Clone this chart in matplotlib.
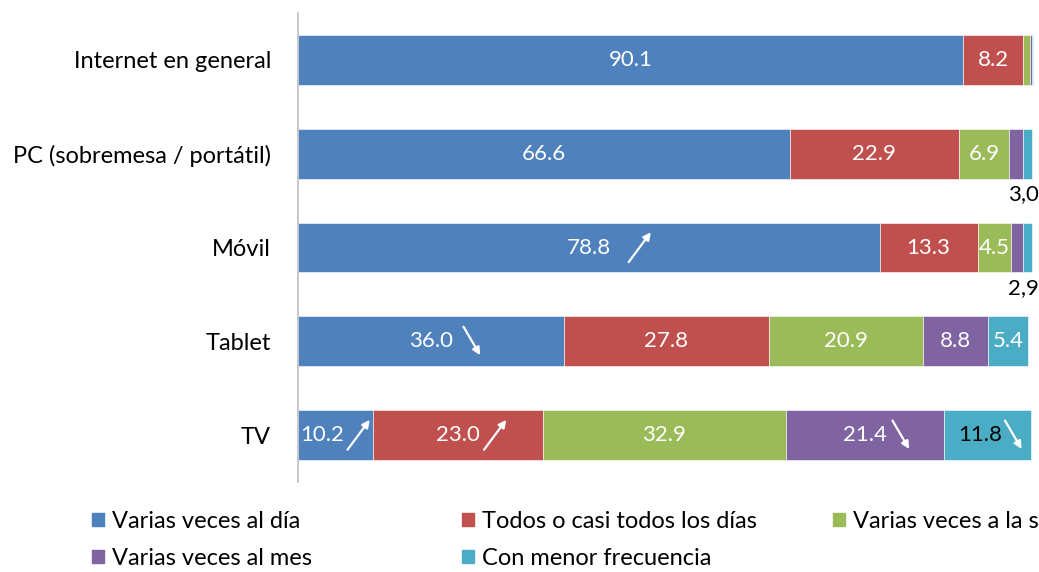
import matplotlib
matplotlib.use("Agg")
import matplotlib.pyplot as plt
import matplotlib.transforms as mtransforms
from matplotlib.patches import Patch
import numpy as np

plt.rcParams['font.family'] = ['Lato', 'DejaVu Sans']

categories = ["Internet en general", "PC (sobremesa / portátil)", "Móvil", "Tablet", "TV"]
series_names = ["Varias veces al día", "Todos o casi todos los días",
                "Varias veces a la semana", "Varias veces al mes", "Con menor frecuencia"]
colors = ["#4F81BD", "#C0504D", "#9BBB59", "#8064A2", "#4BACC6"]

varias_dia = [90.1, 66.6, 78.8, 36.0, 10.2]
todos_dias = [8.2, 22.9, 13.3, 27.8, 23.0]
varias_semana = [0.9, 6.9, 4.5, 20.9, 32.9]
varias_mes = [0.2, 1.8, 1.6, 8.8, 21.4]
menor_frec = [0.2, 1.2, 1.3, 5.4, 11.8]
values = [varias_dia, todos_dias, varias_semana, varias_mes, menor_frec]

# combined labels for small segments (mes + menor frecuencia)
combined_labels = {1: "3,0", 2: "2,9"}
# trend arrows: (category index, series index, direction)
trends = [(2, 0, "up"), (3, 0, "down"), (4, 0, "up"),
          (4, 1, "up"), (4, 3, "down"), (4, 4, "down")]

# styling offsets (px) for labels and arrows relative to segment centre
label_dx = {(4, 0): -13, (4, 4): -7}
arrow_dx = {(2, 0): 51, (3, 0): 41, (4, 0): 23, (4, 1): 37, (4, 3): 36, (4, 4): 26}

W, H = 1039, 572
PT = 72 / 100  # px -> points
fig = plt.figure(figsize=(W / 100, H / 100), dpi=100)
ax = fig.add_axes([298 / W, 1 - 482 / H, (1036 - 298) / W, (482 - 13) / H])

y = np.arange(len(categories))
left = np.zeros(len(categories))
seg_centers = []
for vals, col, name in zip(values, colors, series_names):
    vals = np.array(vals)
    ax.barh(y, vals, left=left, height=0.53, color=col, edgecolor="white",
            linewidth=0.4, label=name)
    seg_centers.append(left + vals / 2)
    left = left + vals
totals = left

ax.set_xlim(0, 100)
ax.set_ylim(len(categories) - 0.5, -0.5)
ax.set_yticks(y)
ax.set_yticklabels(categories, fontsize=17)
ax.tick_params(axis='y', length=0, pad=27 * PT)
ax.set_xticks([])
for s in ["top", "right", "bottom"]:
    ax.spines[s].set_visible(False)
ax.spines["left"].set_color("#BFBFBF")
ax.spines["left"].set_linewidth(1.2)

for si, vals in enumerate(values):
    for ci, v in enumerate(vals):
        if v < 4:
            continue
        txtcol = "black" if (ci == 4 and si == 4) else "white"
        dx = label_dx.get((ci, si), 0)
        ax.annotate(f"{v:.1f}", (seg_centers[si][ci], ci), xytext=(dx * PT, 0),
                    textcoords="offset points", ha="center", va="center",
                    color=txtcol, fontsize=16)

for ci, si, d in trends:
    x0 = seg_centers[si][ci]
    ox = arrow_dx[(ci, si)] * PT
    if d == "up":
        start, end = (ox - 8, -10.5), (ox + 8, 11)
    else:
        start, end = (ox - 6, 10.5), (ox + 6, -10)
    tr_end = mtransforms.offset_copy(ax.transData, fig=fig, x=end[0], y=end[1], units="points")
    tr_start = mtransforms.offset_copy(ax.transData, fig=fig, x=start[0], y=start[1], units="points")
    ax.annotate("", xy=(x0, ci), xycoords=tr_end, xytext=(x0, ci), textcoords=tr_start,
                arrowprops=dict(arrowstyle="-|>", color="white", lw=1.6,
                                mutation_scale=11, shrinkA=0, shrinkB=0))

for ci, lab in combined_labels.items():
    ax.annotate(lab, (totals[ci], ci + 0.265), xytext=(5, -4), textcoords="offset points",
                ha="right", va="top", fontsize=16, color="black", annotation_clip=False)

# legend in three columns, row-wise order
cols = [[0, 3], [1, 4], [2]]
xs = [92, 462, 833]
for idx, x in zip(cols, xs):
    fig.legend([Patch(color=colors[i]) for i in idx], [series_names[i] for i in idx],
               loc="upper left", bbox_to_anchor=(x / W, 1 - 511 / H), frameon=False,
               fontsize=17, handlelength=0.5, handleheight=0.5, handletextpad=0.34,
               labelspacing=0.68, borderaxespad=0, borderpad=0)

fig.savefig("out.png", dpi=100)
